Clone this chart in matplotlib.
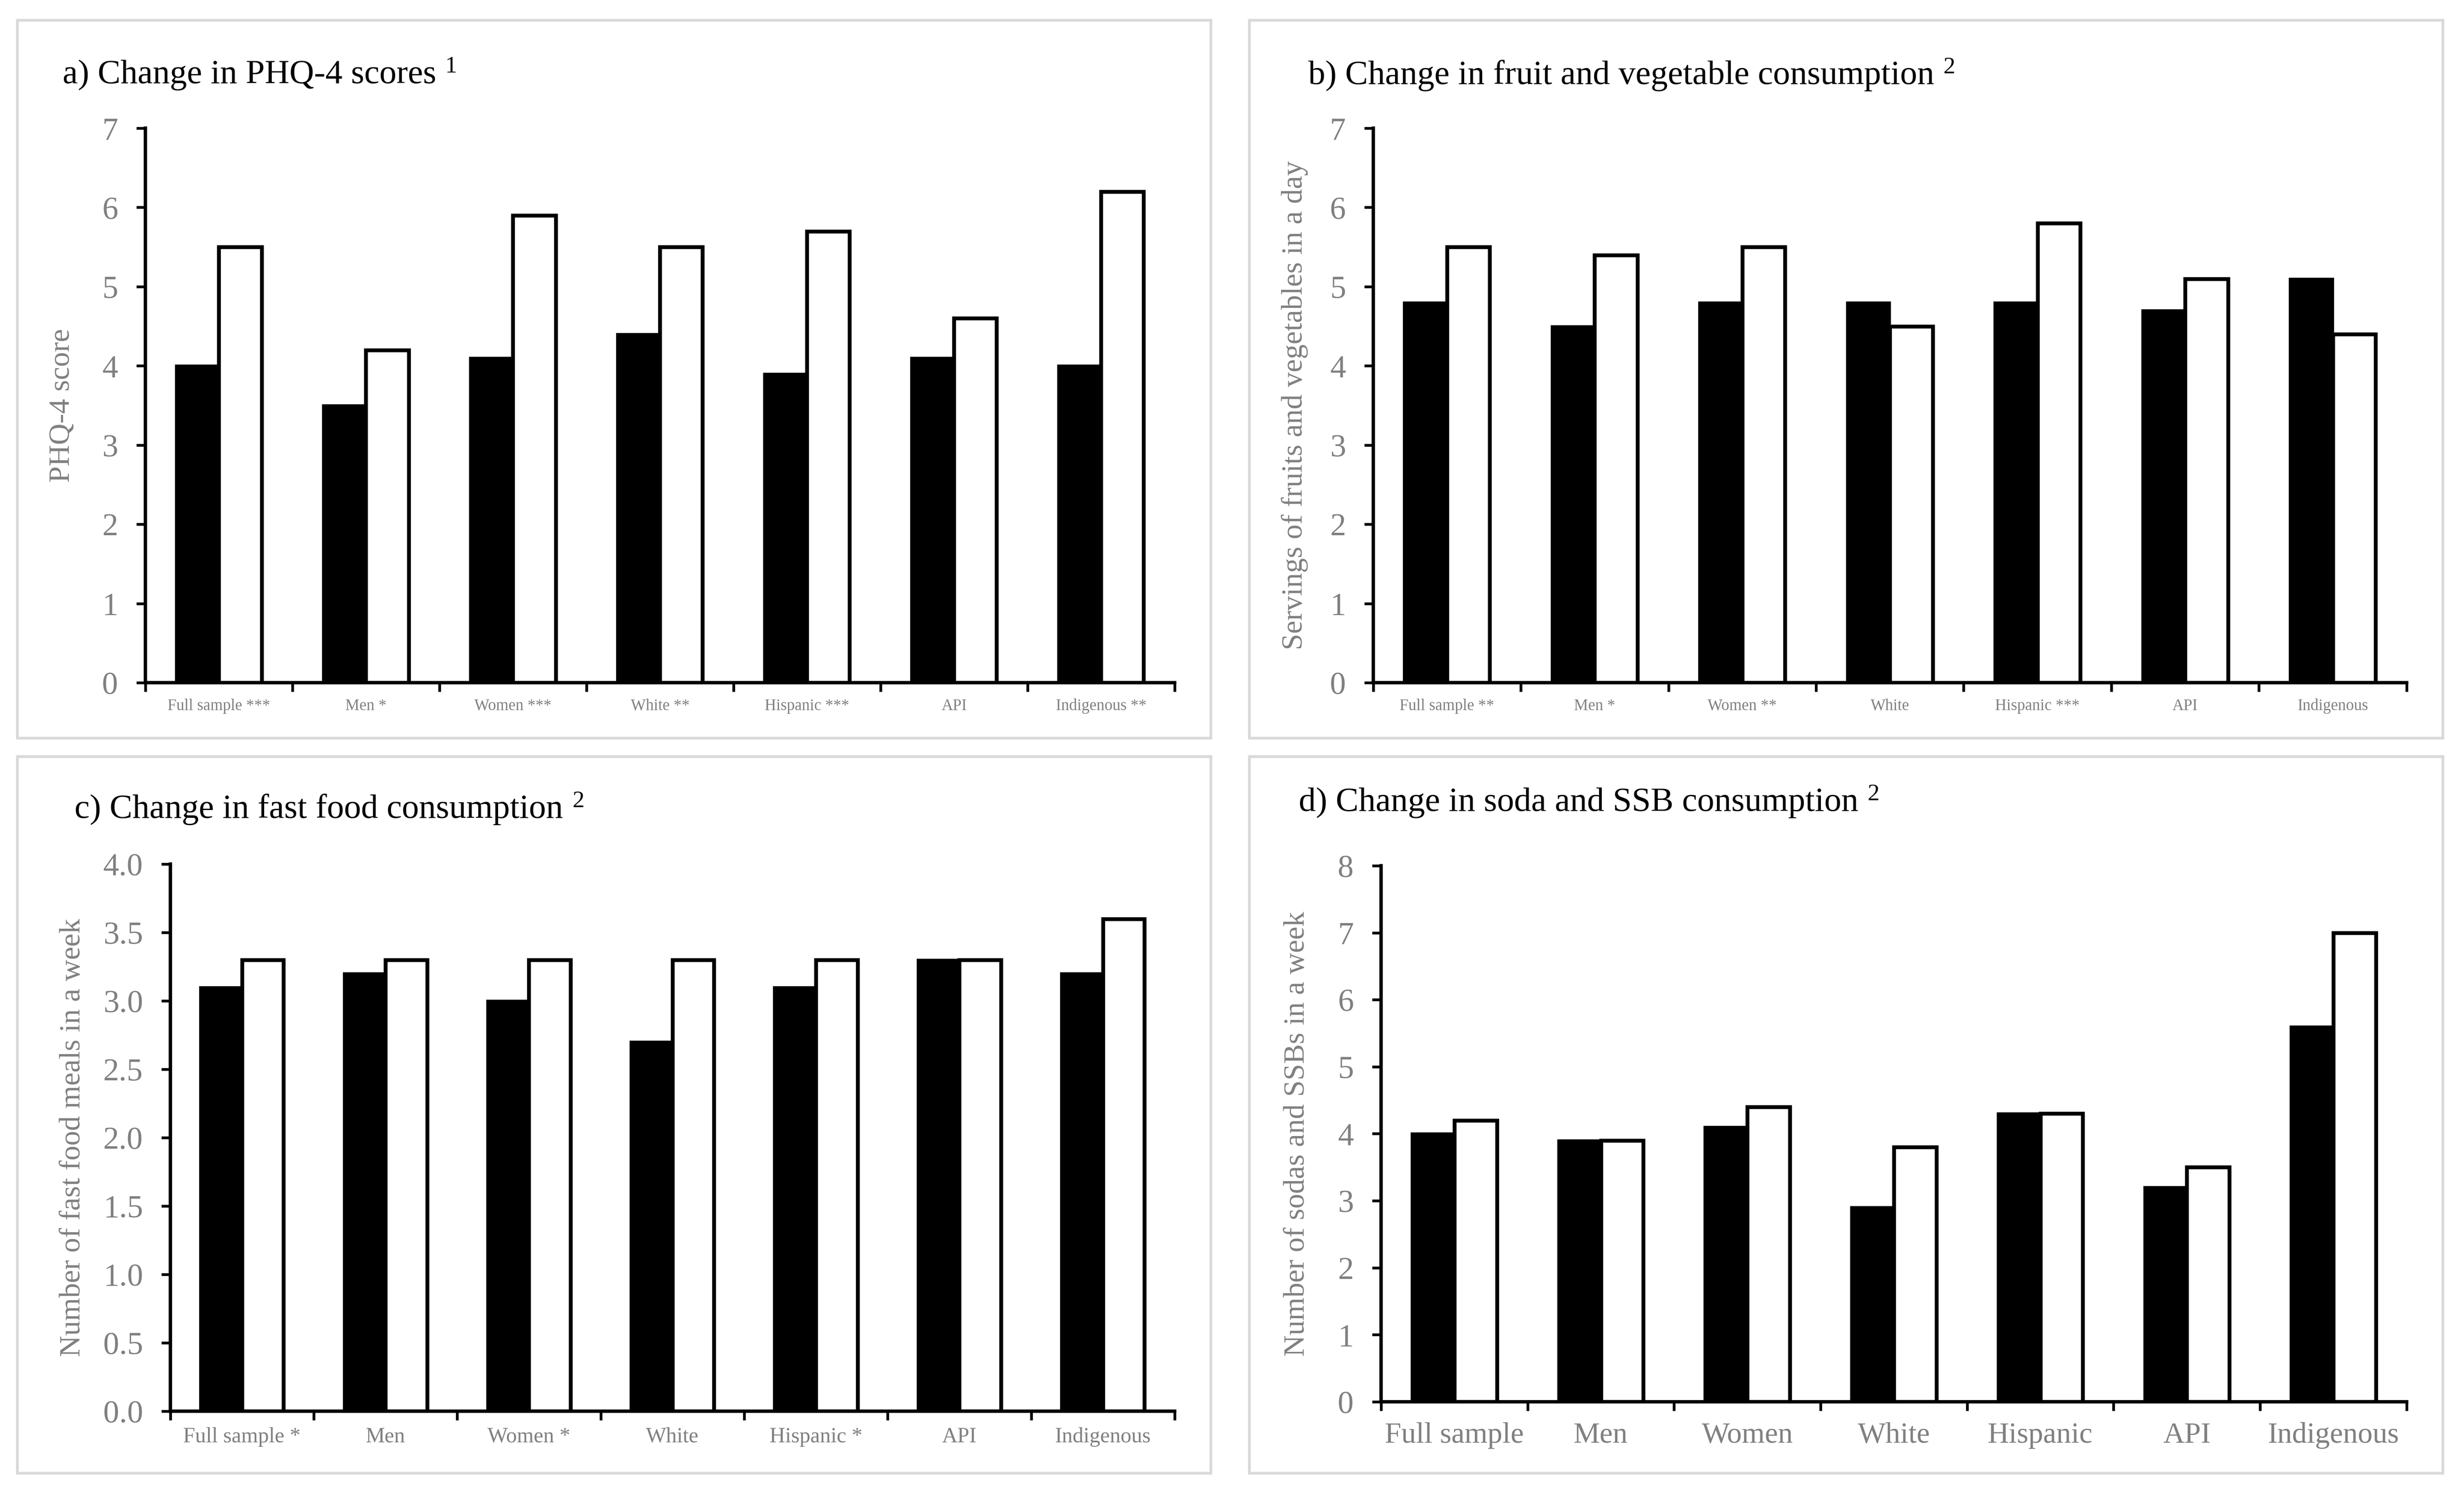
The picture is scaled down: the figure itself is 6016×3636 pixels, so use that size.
import matplotlib
matplotlib.use("Agg")
import matplotlib.pyplot as plt
from matplotlib.patches import Rectangle
from matplotlib.transforms import offset_copy
import numpy as np

plt.rcParams['font.family'] = ['Liberation Serif', 'DejaVu Serif']

categories_a = ["Full sample ***", "Men *", "Women ***", "White **", "Hispanic ***", "API", "Indigenous **"]
categories_b = ["Full sample **", "Men *", "Women **", "White", "Hispanic ***", "API", "Indigenous"]
categories_c = ["Full sample *", "Men", "Women *", "White", "Hispanic *", "API", "Indigenous"]
categories_d = ["Full sample", "Men", "Women", "White", "Hispanic", "API", "Indigenous"]

phq_before = [4.0, 3.5, 4.1, 4.4, 3.9, 4.1, 4.0]
phq_after = [5.5, 4.2, 5.9, 5.5, 5.7, 4.6, 6.2]
fv_before = [4.8, 4.5, 4.8, 4.8, 4.8, 4.7, 5.1]
fv_after = [5.5, 5.4, 5.5, 4.5, 5.8, 5.1, 4.4]
ff_before = [3.1, 3.2, 3.0, 2.7, 3.1, 3.3, 3.2]
ff_after = [3.3, 3.3, 3.3, 3.3, 3.3, 3.3, 3.6]
ssb_before = [4.0, 3.9, 4.1, 2.9, 4.3, 3.2, 5.6]
ssb_after = [4.2, 3.9, 4.4, 3.8, 4.3, 3.5, 7.0]

titles = ["a) Change in PHQ-4 scores",
          "b) Change in fruit and vegetable consumption",
          "c) Change in fast food consumption",
          "d) Change in soda and SSB consumption"]
title_notes = ["1", "2", "2", "2"]
ylabels = ["PHQ-4 score",
           "Servings of fruits and vegetables in a day",
           "Number of fast food meals in a week",
           "Number of sodas and SSBs in a week"]

GRAY = '#808080'

fig = plt.figure(figsize=(15.04, 9.09), dpi=400)

# panel borders
boxes = [(0.00698, 0.5044, 0.4844, 0.4821),
         (0.5070, 0.5044, 0.4844, 0.4821),
         (0.00698, 0.0107, 0.4844, 0.4813),
         (0.5070, 0.0107, 0.4844, 0.4813)]
for (x0, y0, w, h) in boxes:
    fig.patches.append(Rectangle((x0, y0), w, h, transform=fig.transFigure,
                                 fill=False, edgecolor='#d9d9d9', linewidth=1.2))

axes_pos = [(0.0590, 0.5415, 0.4177, 0.3724),
            (0.5573, 0.5415, 0.4194, 0.3724),
            (0.0691, 0.0523, 0.4076, 0.3674),
            (0.5605, 0.0586, 0.4162, 0.3600)]
title_pos = [(0.0254, 0.9442), (0.5309, 0.9436), (0.0303, 0.4508), (0.5271, 0.4554)]
ylabel_x = [-0.068, -0.063, -0.084, -0.069]

datasets = [(categories_a, phq_before, phq_after, 7, 1, '%d', 7),
            (categories_b, fv_before, fv_after, 7, 1, '%d', 7),
            (categories_c, ff_before, ff_after, 4, 0.5, '%.1f', 9.5),
            (categories_d, ssb_before, ssb_after, 8, 1, '%d', 13)]

bw = 0.29
title_texts = []
for i, (cats, before, after, ymax, step, fmt, xfs) in enumerate(datasets):
    ax = fig.add_axes(axes_pos[i])
    x = np.arange(len(cats)) + 0.5
    ax.bar(x - bw / 2, before, width=bw, color='black', edgecolor='black', linewidth=1.0, zorder=2)
    ax.bar(x + bw / 2, after, width=bw, color='white', edgecolor='black', linewidth=1.7, zorder=2)
    ax.set_xlim(0, len(cats))
    ax.set_ylim(0, ymax)
    ax.set_yticks(np.arange(0, ymax + step / 2, step))
    ax.yaxis.set_major_formatter(matplotlib.ticker.FormatStrFormatter(fmt))
    ax.set_xticks(np.arange(len(cats) + 1))
    ax.set_xticklabels([])
    ax.set_xticks(x, minor=True)
    ax.set_xticklabels(cats, minor=True)
    ax.tick_params(axis='x', which='minor', length=0, labelsize=xfs, labelcolor=GRAY, pad=7 if xfs < 12 else 9)
    ax.tick_params(axis='x', which='major', length=4, width=1.2, direction='out', color='black')
    ax.tick_params(axis='y', which='major', length=4, width=1.2, direction='out', color='black',
                   labelsize=14, labelcolor=GRAY, pad=8)
    for s in ['top', 'right']:
        ax.spines[s].set_visible(False)
    for s in ['left', 'bottom']:
        ax.spines[s].set_linewidth(1.5)
        ax.spines[s].set_color('black')
        ax.spines[s].set_zorder(3)
    ax.set_ylabel(ylabels[i], fontsize=13, color=GRAY)
    ax.yaxis.set_label_coords(ylabel_x[i], 0.5)
    t = fig.text(title_pos[i][0], title_pos[i][1], titles[i], fontsize=15, color='black',
                 ha='left', va='baseline')
    title_texts.append(t)

# superscript notes after titles
fig.canvas.draw()
renderer = fig.canvas.get_renderer()
inv = fig.transFigure.inverted()
for i, t in enumerate(title_texts):
    bb = t.get_window_extent(renderer)
    xr = inv.transform((bb.x1, bb.y0))[0]
    tr = offset_copy(fig.transFigure, fig=fig, x=4.0, y=4.7, units='points')
    fig.text(xr, title_pos[i][1], title_notes[i], fontsize=10.5, color='black',
             ha='left', va='baseline', transform=tr)

fig.savefig('out.png', dpi=400)
